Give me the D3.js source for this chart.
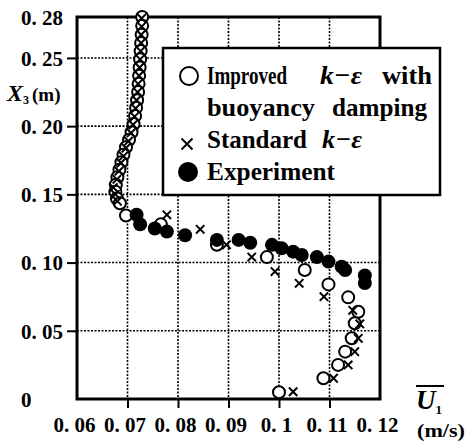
<!DOCTYPE html>
<html>
<head>
<meta charset="utf-8">
<script src="https://cdn.jsdelivr.net/npm/d3@7"></script>
<style>
  body { margin: 0; background: #fff; }
  svg { display: block; }
</style>
</head>
<body>
<div id="chart"></div>
<script>
// axis ticks
const xTicks = [0.06, 0.07, 0.08, 0.09, 0.10, 0.11, 0.12];
const xTickLabels = ["0. 06", "0. 07", "0. 08", "0. 09", "0. 1", "0. 11", "0. 12"];
const yTicks = [0, 0.05, 0.10, 0.15, 0.20, 0.25, 0.28];
const yTickLabels = ["0", "0. 05", "0. 10", "0. 15", "0. 20", "0. 25", "0. 28"];

// Improved k-e with buoyancy damping (open circles)
const improvedU = [0.0729, 0.0729, 0.0728, 0.0727, 0.0726, 0.0725, 0.0724, 0.0723, 0.0722, 0.0721,
  0.0719, 0.0717, 0.0715, 0.0712, 0.0708, 0.0703, 0.0697, 0.0692, 0.0688, 0.0684,
  0.0680, 0.0677, 0.0676, 0.0679, 0.0685,
  0.0697, 0.0766, 0.0877, 0.0976, 0.1051, 0.1098, 0.1137, 0.1157, 0.1150, 0.1144,
  0.1131, 0.1117, 0.1088, 0.1000];
const improvedX3 = [0.280, 0.2735, 0.267, 0.261, 0.255, 0.249, 0.243, 0.237, 0.231, 0.225,
  0.219, 0.2135, 0.2075, 0.2015, 0.1955, 0.190, 0.1845, 0.179, 0.1735, 0.168,
  0.1625, 0.157, 0.152, 0.147, 0.1435,
  0.1345, 0.128, 0.113, 0.104, 0.0946, 0.0840, 0.0745, 0.0640, 0.0555, 0.0445,
  0.0347, 0.0250, 0.0152, 0.0050];

// Standard k-e (crosses)
const standardU = [0.0728, 0.0728, 0.0727, 0.0727, 0.0726, 0.0725, 0.0724, 0.0723, 0.0721, 0.0720,
  0.0718, 0.0716, 0.0714, 0.0711, 0.0707, 0.0702, 0.0697, 0.0692, 0.0687, 0.0683,
  0.0679, 0.0672, 0.0676, 0.0680,
  0.0778, 0.0844, 0.0896, 0.0946, 0.0992, 0.1040, 0.1089, 0.1146, 0.1160, 0.1157,
  0.1150, 0.1137, 0.1108, 0.1028];
const standardX3 = [0.279, 0.273, 0.267, 0.261, 0.255, 0.249, 0.243, 0.237, 0.231, 0.225,
  0.219, 0.213, 0.207, 0.201, 0.195, 0.189, 0.184, 0.178, 0.173, 0.167,
  0.161, 0.155, 0.150, 0.145,
  0.135, 0.1244, 0.113, 0.104, 0.0934, 0.0848, 0.075, 0.065, 0.055, 0.0445,
  0.0347, 0.025, 0.0152, 0.0053];

// Experiment (filled circles)
const experimentU = [0.0718, 0.0725, 0.0754, 0.0778, 0.0814, 0.0877, 0.0920, 0.0943, 0.0986, 0.1005,
  0.1028, 0.1045, 0.1075, 0.1098, 0.1124, 0.1131, 0.1170, 0.1170];
const experimentX3 = [0.135, 0.128, 0.125, 0.1227, 0.120, 0.1166, 0.1166, 0.1145, 0.113, 0.1105,
  0.108, 0.1056, 0.104, 0.1007, 0.097, 0.0946, 0.0905, 0.0850];

const width = 468, height = 441;
const plotL = 77, plotR = 380, plotT = 17, plotB = 399;
const serif = "Liberation Serif";

const x = d3.scaleLinear().domain([0.06, 0.12]).range([plotL, plotR]);
const y = d3.scaleLinear().domain([0, 0.28]).range([plotB, plotT]);

const svg = d3.select("#chart").append("svg")
  .attr("width", width)
  .attr("height", height)
  .attr("font-family", serif)
  .attr("font-weight", "bold");

// dotted grid
const inner = v => v > 0.0601 && v < 0.1199;
svg.append("g").selectAll("line")
  .data(xTicks.filter(inner))
  .join("line")
  .attr("x1", d => x(d)).attr("x2", d => x(d))
  .attr("y1", plotT).attr("y2", plotB)
  .attr("stroke", "#000").attr("stroke-width", 1.6).attr("stroke-dasharray", "2,1.5");
svg.append("g").selectAll("line")
  .data(yTicks.filter(d => d > 0 && d < 0.28))
  .join("line")
  .attr("x1", plotL).attr("x2", plotR)
  .attr("y1", d => y(d)).attr("y2", d => y(d))
  .attr("stroke", "#000").attr("stroke-width", 1.6).attr("stroke-dasharray", "2,1.5");

// axes
const xAxis = svg.append("g")
  .attr("transform", `translate(0,${plotB})`)
  .call(d3.axisBottom(x).tickValues(xTicks).tickFormat((d, i) => xTickLabels[i]).tickSize(9).tickPadding(9));
xAxis.select(".domain").remove();
xAxis.selectAll(".tick line")
  .attr("stroke-width", 2)
  .attr("display", d => inner(d) ? null : "none");
xAxis.selectAll(".tick text")
  .attr("font-family", serif).attr("font-weight", "bold").attr("font-size", 21)
  .attr("dx", -3).attr("fill", "#000");

const yAxis = svg.append("g")
  .attr("transform", `translate(${plotL},0)`)
  .call(d3.axisLeft(y).tickValues(yTicks).tickFormat((d, i) => yTickLabels[i]).tickSize(10));
yAxis.select(".domain").remove();
yAxis.selectAll(".tick line")
  .attr("stroke-width", 2)
  .attr("display", d => d > 0 && d < 0.28 ? null : "none");
yAxis.selectAll(".tick text")
  .attr("font-family", serif).attr("font-weight", "bold").attr("font-size", 21)
  .attr("text-anchor", "start").attr("x", 21 - plotL).attr("dy", "0.35em")
  .attr("fill", "#000");

// frame
svg.append("rect")
  .attr("x", plotL).attr("y", plotT)
  .attr("width", plotR - plotL).attr("height", plotB - plotT)
  .attr("fill", "none").attr("stroke", "#000").attr("stroke-width", 3);

// series
const improved = improvedU.map((u, i) => [u, improvedX3[i]]);
const standard = standardU.map((u, i) => [u, standardX3[i]]);
const experiment = experimentU.map((u, i) => [u, experimentX3[i]]);

svg.append("g").selectAll("circle")
  .data(improved)
  .join("circle")
  .attr("cx", d => x(d[0])).attr("cy", d => y(d[1]))
  .attr("r", 6)
  .attr("fill", "#fff").attr("stroke", "#000").attr("stroke-width", 2);

const cross = s => `M${-s},${-s}L${s},${s}M${-s},${s}L${s},${-s}`;
svg.append("g").selectAll("path")
  .data(standard)
  .join("path")
  .attr("transform", d => `translate(${x(d[0])},${y(d[1])})`)
  .attr("d", cross(4.2))
  .attr("stroke", "#000").attr("stroke-width", 2).attr("fill", "none");

svg.append("g").selectAll("circle")
  .data(experiment)
  .join("circle")
  .attr("cx", d => x(d[0])).attr("cy", d => y(d[1]))
  .attr("r", 7)
  .attr("fill", "#000");

// legend
const lg = svg.append("g");
lg.append("rect")
  .attr("x", 163).attr("y", 48).attr("width", 277).attr("height", 147)
  .attr("fill", "#fff").attr("stroke", "#000").attr("stroke-width", 2.5);
lg.append("circle").attr("cx", 189).attr("cy", 76).attr("r", 9)
  .attr("fill", "#fff").attr("stroke", "#000").attr("stroke-width", 2);
lg.append("path").attr("transform", "translate(187,144)").attr("d", cross(5.5))
  .attr("stroke", "#000").attr("stroke-width", 2);
lg.append("circle").attr("cx", 188).attr("cy", 172).attr("r", 10).attr("fill", "#000");

function word(txt, xPos, yPos, len, italic) {
  lg.append("text")
    .attr("x", xPos).attr("y", yPos)
    .attr("font-size", 26)
    .attr("font-style", italic ? "italic" : "normal")
    .attr("textLength", len).attr("lengthAdjust", "spacingAndGlyphs")
    .text(txt);
}
word("Improved", 207, 84, 80, false);
word("k\u2212\u03b5", 320, 84, 42, true);
word("with", 382, 84, 50, false);
word("buoyancy", 207, 116, 108, false);
word("damping", 332, 116, 95, false);
word("Standard", 207, 148, 100, false);
word("k\u2212\u03b5", 322, 148, 40, true);
word("Experiment", 207, 180, 128, false);

// axis titles
const yt = svg.append("text").attr("x", 7).attr("y", 101).attr("font-size", 24);
yt.append("tspan").attr("font-style", "italic").text("X");
yt.append("tspan").attr("font-size", 12).attr("dy", 3).text("3");
yt.append("tspan").attr("font-size", 19).attr("dy", -3).attr("dx", 3).text("(m)");

svg.append("line").attr("x1", 416).attr("x2", 444).attr("y1", 386).attr("y2", 386)
  .attr("stroke", "#000").attr("stroke-width", 2);
const xt = svg.append("text").attr("x", 416).attr("y", 409).attr("font-size", 27);
xt.append("tspan").attr("font-style", "italic").text("U");
xt.append("tspan").attr("font-size", 13).attr("dy", 5).text("1");
svg.append("text").attr("x", 417).attr("y", 437).attr("font-size", 19)
  .attr("textLength", 48).attr("lengthAdjust", "spacingAndGlyphs")
  .text("(m/s)");
</script>
</body>
</html>
